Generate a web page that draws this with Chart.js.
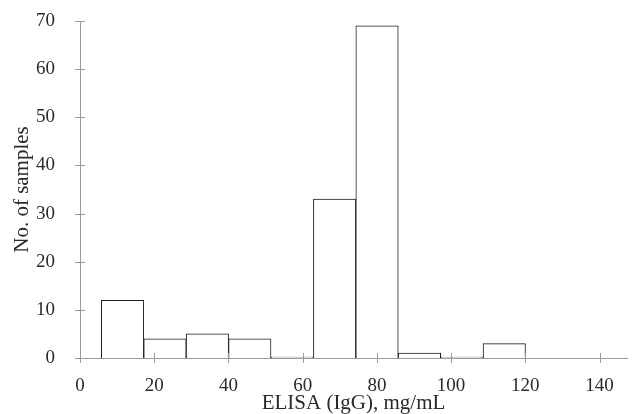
<!DOCTYPE html>
<html>
<head>
<meta charset="utf-8">
<script src="https://cdn.jsdelivr.net/npm/chart.js@4/dist/chart.umd.min.js"></script>
<style>
  html, body { margin: 0; padding: 0; background: #fff; }
  #wrap { width: 637px; height: 414px; }
</style>
</head>
<body>
<div id="wrap"><canvas id="c" width="637" height="414"></canvas></div>
<script>
// Bin edges (mg/mL)
const binEdges = [5.75, 17.18, 28.61, 40.04, 51.47, 62.90, 74.33, 85.76, 97.19, 108.62, 120.05];
// Counts per bin
const counts = [12, 4, 5, 4, 0, 33, 69, 1, 0, 3];
// Tick labels
const xTicks = [0, 20, 40, 60, 80, 100, 120, 140];
const yTicks = [0, 10, 20, 30, 40, 50, 60, 70];
const xTitle = 'ELISA (IgG), mg/mL';
const yTitle = 'No. of samples';

const binCenters = counts.map((_, i) => (binEdges[i] + binEdges[i + 1]) / 2);
const points = counts.map((v, i) => ({ x: binCenters[i], y: v }));

const axisColor = '#9a9a9a';
const textColor = '#2a2a2a';
const fontFamily = '"Liberation Serif", "DejaVu Serif", serif';

const crossTicks = {
  id: 'crossTicks',
  afterDatasetsDraw(chart) {
    const ctx = chart.ctx;
    const xs = chart.scales.x, ys = chart.scales.y;
    ctx.save();
    ctx.strokeStyle = axisColor;
    ctx.lineWidth = 1;
    ctx.beginPath();
    xs.ticks.forEach((t, i) => {
      const px = Math.round(xs.getPixelForTick(i)) + 0.5;
      ctx.moveTo(px, ys.bottom - 5);
      ctx.lineTo(px, ys.bottom + 5);
    });
    ys.ticks.forEach((t, i) => {
      const py = Math.round(ys.getPixelForTick(i)) + 0.5;
      ctx.moveTo(xs.left - 5, py);
      ctx.lineTo(xs.left + 5, py);
    });
    ctx.stroke();
    ctx.restore();
  }
};

new Chart(document.getElementById('c'), {
  type: 'bar',
  data: {
    datasets: [{
      data: points,
      backgroundColor: '#ffffff',
      borderColor: '#1e1e1e',
      borderWidth: 1,
      minBarLength: 1,
      barPercentage: 1,
      categoryPercentage: 1
    }]
  },
  options: {
    responsive: false,
    animation: false,
    events: [],
    layout: { padding: { top: 21, right: 10, left: 0, bottom: 0 } },
    plugins: { legend: { display: false }, tooltip: { enabled: false } },
    scales: {
      x: {
        type: 'linear',
        offset: false,
        min: 0,
        max: 147.4,
        afterBuildTicks(scale) {
          scale.ticks = xTicks.map(v => ({ value: v }));
        },
        afterFit(scale) { scale.height = 56; scale.paddingLeft = 0; scale.paddingRight = 0; },
        grid: { display: false, offset: false },
        border: { display: true, color: axisColor, width: 1 },
        ticks: {
          color: textColor,
          padding: 9,
          maxRotation: 0,
          autoSkip: false,
          font: { family: fontFamily, size: 19 }
        },
        title: {
          display: true,
          text: xTitle,
          color: textColor,
          padding: { top: 0, bottom: 0 },
          font: { family: fontFamily, size: 21, lineHeight: 1 }
        }
      },
      y: {
        type: 'linear',
        min: 0,
        max: 70,
        afterBuildTicks(scale) {
          scale.ticks = yTicks.map(v => ({ value: v }));
        },
        afterFit(scale) { scale.width = 80; scale.paddingTop = 0; scale.paddingBottom = 0; },
        grid: { display: false },
        border: { display: true, color: axisColor, width: 1 },
        ticks: {
          color: textColor,
          padding: 17,
          font: { family: fontFamily, size: 19 }
        },
        title: {
          display: true,
          text: yTitle,
          color: textColor,
          padding: { top: 12, bottom: 0 },
          font: { family: fontFamily, size: 21, lineHeight: 1 }
        }
      }
    }
  },
  plugins: [crossTicks]
});
</script>
</body>
</html>
